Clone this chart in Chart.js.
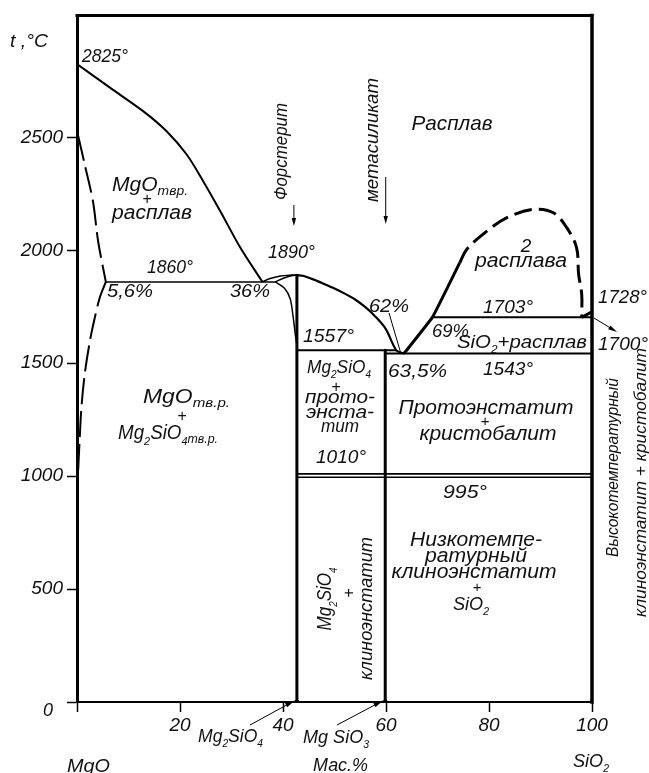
<!DOCTYPE html>
<html lang="ru">
<head>
<meta charset="utf-8">
<title>Диаграмма состояния MgO – SiO2</title>
<script src="https://cdn.jsdelivr.net/npm/chart.js@4.4.0/dist/chart.umd.min.js"></script>
<style>
  html, body { margin: 0; padding: 0; background: #fff; }
  canvas { display: block; }
</style>
</head>
<body>
<canvas id="c" width="649" height="773"></canvas>
<script>
// Axis ticks
const xTickValues = [0, 20, 40, 60, 80, 100];
const yTickValues = [0, 500, 1000, 1500, 2000, 2500];

// Compositions of the compounds, mass % SiO2
const forsteriteX = 42.7;   // Mg2SiO4
const enstatiteX = 59.85;   // MgSiO3

// Liquidus of MgO: from 2825° down to the eutectic 36 % / 1860°
const mgoLiquidus = [[0, 2825], [6.4, 2720], [12.9, 2615], [17.4, 2527], [21.3, 2424],
                     [24.5, 2306], [27.8, 2174], [31.7, 2012], [36, 1860]];
// Limit of the MgO solid solution (dashed)
const mgoSolvusUpper = [[0.2, 2510], [1.5, 2380], [3.1, 2217], [4.1, 2040], [5.6, 1860]];
const mgoSolvusLower = [[5.6, 1860], [4.4, 1789], [3.45, 1701], [2.5, 1598], [1.5, 1452],
                        [0.85, 1302], [0.5, 1155], [0.2, 1009], [0.05, 880]];
// Eutectic 1860°
const eutectic1860 = [[5.6, 1860], [38.5, 1860]];
// Forsterite melting region (max 1890°)
const fLiquidusLeft = [[36, 1860], [37.5, 1875], [39.5, 1886], [41.2, 1890], [42.7, 1890]];
const fSolidusLeft = [[38.5, 1860], [40.2, 1877], [41.6, 1887], [42.7, 1890]];
const fSolvus = [[38.5, 1860], [40.3, 1832], [41.4, 1785], [42.0, 1700], [42.4, 1625], [42.7, 1580]];
const forsteriteLine = [[forsteriteX, 1890], [forsteriteX, 0]];
const fLiquidusRight = [[42.7, 1890], [44, 1886], [46, 1870], [48, 1851], [50, 1831], [52, 1808],
                        [54, 1782], [56, 1748], [58, 1705], [60, 1650], [62, 1557], [63.5, 1543]];
// Peritectic 1557° and metasilicate line
const peritectic1557 = [[forsteriteX, 1557], [62, 1557]];
const enstatiteLine = [[enstatiteX, 1557], [enstatiteX, 0]];
// Eutectic 1543°
const eutectic1543 = [[enstatiteX, 1543], [100, 1543]];
// Cristobalite liquidus and two-liquid region
const silicaLiquidus = [[63.5, 1543], [69, 1703], [72, 1838], [74.3, 1944]];
const twoLiquids = [[74.3, 1944], [75.7, 2005], [79.6, 2085], [83.4, 2144], [88.6, 2181],
                    [92.5, 2166], [95.1, 2100], [97.0, 2012], [97.4, 1894], [98.0, 1806], [98.0, 1703]];
const monotectic1703 = [[69, 1703], [100, 1703]];
const silicaMelting = [[98, 1703], [100, 1728]];
// Polymorphic transformations
const transition1010 = [[forsteriteX, 1010], [100, 1010]];
const transition995 = [[forsteriteX, 995], [100, 995]];
// Junctions on the composition axis
const baseJunctions = [[0, 0], [forsteriteX, 0], [enstatiteX, 0], [100, 0]];

const FAMILY = '"Liberation Sans", Arial, sans-serif';
const font = size => `italic ${size}px ${FAMILY}`;

function pts(arr) { return arr.map(([x, y]) => ({ x, y })); }
function curve(arr, width, dash, tension) {
  return {
    data: pts(arr), showLine: true, borderColor: '#000', backgroundColor: '#000',
    borderWidth: width, borderDash: dash || [], pointRadius: 0, pointHoverRadius: 0,
    tension: tension || 0, fill: false, borderCapStyle: 'butt', borderJoinStyle: 'round'
  };
}

// Text with subscripts: parts are [text, kind]; kind 0 normal, 1 index, 2 small phase index.
// When a width is given the line is stretched horizontally to it.
function drawRich(ctx, parts, x, y, size, align, angle, width) {
  ctx.save();
  ctx.translate(x, y);
  if (angle) ctx.rotate(angle);
  ctx.textBaseline = 'alphabetic';
  ctx.textAlign = 'left';
  ctx.fillStyle = '#111';
  const segs = parts.map(p => {
    const [t, k] = Array.isArray(p) ? p : [p, 0];
    const sz = k === 1 ? size * 0.58 : k === 2 ? size * 0.66 : size;
    const dy = k === 1 ? size * 0.28 : k === 2 ? size * 0.2 : 0;
    ctx.font = font(sz);
    return { t, sz, dy, w: ctx.measureText(t).width };
  });
  const total = segs.reduce((a, s) => a + s.w, 0);
  const sx = width ? Math.min(1.3, Math.max(0.85, width / total)) : 1;
  ctx.scale(sx, 1);
  let cx = align === 'center' ? -total / 2 : align === 'right' ? -total : 0;
  for (const s of segs) {
    ctx.font = font(s.sz);
    ctx.fillText(s.t, cx, s.dy);
    cx += s.w;
  }
  ctx.restore();
}

function arrow(ctx, x1, y1, x2, y2, head) {
  const a = Math.atan2(y2 - y1, x2 - x1);
  const h = head || 8;
  ctx.save();
  ctx.strokeStyle = '#000';
  ctx.fillStyle = '#000';
  ctx.lineWidth = 1;
  ctx.beginPath();
  ctx.moveTo(x1, y1);
  ctx.lineTo(x2 - Math.cos(a) * h * 0.6, y2 - Math.sin(a) * h * 0.6);
  ctx.stroke();
  ctx.beginPath();
  ctx.moveTo(x2, y2);
  ctx.lineTo(x2 - h * Math.cos(a) + 2.2 * Math.sin(a), y2 - h * Math.sin(a) - 2.2 * Math.cos(a));
  ctx.lineTo(x2 - h * Math.cos(a) - 2.2 * Math.sin(a), y2 - h * Math.sin(a) + 2.2 * Math.cos(a));
  ctx.closePath();
  ctx.fill();
  ctx.restore();
}

const UP = -Math.PI / 2;

// [parts, x, y (baseline), size, align, angle, width]
const captions = [
  [['t ,°C'], 10, 47, 19, 'left', 0, 38],
  [['0'], 43, 716, 19, 'left', 0, 10],
  [['MgO'], 67, 772, 19, 'left', 0, 43],
  [['Мас.%'], 313, 771, 19, 'left', 0, 55],
  [['SiO', ['2', 1]], 573, 767, 19, 'left', 0, 36],
  [['Mg', ['2', 1], 'SiO', ['4', 1]], 198, 742, 19, 'left', 0, 65],
  [['Mg SiO', ['3', 1]], 303, 742.5, 19, 'left', 0, 66],

  [['2825°'], 82, 61.5, 18.5, 'left', 0, 46],
  [['1860°'], 147, 273, 18.5, 'left', 0, 46],
  [['5,6%'], 107, 296.5, 18.5, 'left', 0, 46],
  [['36%'], 230, 296.5, 18.5, 'left', 0, 40],
  [['1890°'], 268, 257.5, 18.5, 'left', 0, 47],
  [['1557°'], 303, 341.5, 18.5, 'left', 0, 51],
  [['1010°'], 316, 462.5, 18.5, 'left', 0, 50],
  [['62%'], 369, 311.5, 18.5, 'left', 0, 40],
  [['63,5%'], 388, 376.5, 18.5, 'left', 0, 59],
  [['1543°'], 483, 374.5, 18.5, 'left', 0, 50],
  [['69%'], 432, 336.5, 18.5, 'left', 0, 37],
  [['1703°'], 483, 312.5, 18.5, 'left', 0, 50],
  [['1728°'], 598, 302.5, 18.5, 'left', 0, 49],
  [['1700°'], 598, 350, 18.5, 'left', 0, 50],
  [['995°'], 443, 497.5, 18.5, 'left', 0, 44],

  [['Расплав'], 452, 130, 21, 'center', 0, 81],
  [['MgO', ['твр.', 2]], 150, 190.5, 20, 'center', 0, 76],
  [['+'], 147, 203.5, 16, 'center', 0, 0],
  [['расплав'], 152, 219, 20, 'center', 0, 80],

  [['MgO', ['тв.р.', 2]], 143, 402.7, 20, 'left', 0, 87],
  [['+'], 182, 420.5, 16, 'center', 0, 0],
  [['Mg', ['2', 1], 'SiO', ['4', 1], ['тв.р.', 2]], 118, 439.3, 20, 'left', 0, 100],

  [['Mg', ['2', 1], 'SiO', ['4', 1]], 339, 373, 19, 'center', 0, 64],
  [['+'], 336, 391.5, 16, 'center', 0, 0],
  [['прото-'], 340, 403, 19, 'center', 0, 70],
  [['энста-'], 340, 418, 19, 'center', 0, 68],
  [['тит'], 340, 432, 19, 'center', 0, 38],

  [['2'], 526, 251.5, 19, 'center', 0, 0],
  [['расплава'], 521, 266.5, 20, 'center', 0, 92],
  [['SiO', ['2', 1], '+расплав'], 457, 347.5, 19, 'left', 0, 130],

  [['Протоэнстатит'], 486, 413.5, 20, 'center', 0, 175],
  [['+'], 485, 426, 15, 'center', 0, 0],
  [['кристобалит'], 488, 439.5, 20, 'center', 0, 137],

  [['Низкотемпе-'], 476, 546, 20, 'center', 0, 132],
  [['ратурный'], 476, 561.5, 20, 'center', 0, 102],
  [['клиноэнстатит'], 474, 578, 20, 'center', 0, 165],
  [['+'], 477, 591.5, 15, 'center', 0, 0],
  [['SiO', ['2', 1]], 471, 610, 19, 'center', 0, 36],

  [['Mg', ['2', 1], 'SiO', ['4', 1]], 331, 599, 20, 'center', UP, 60],
  [['+'], 354, 593, 16, 'center', UP, 0],
  [['клиноэнстатит'], 372, 608.5, 19, 'center', UP, 143],

  [['Высокотемпературный'], 618, 467.5, 17, 'center', UP, 179],
  [['клиноэнстатит + кристобалит'], 646, 482.5, 17, 'center', UP, 269]
];

const annotations = {
  id: 'annotations',
  afterDatasetsDraw(chart) {
    const { ctx, chartArea: a, scales: { x, y } } = chart;
    // frame
    ctx.save();
    ctx.strokeStyle = '#000';
    ctx.lineCap = 'square';
    ctx.lineWidth = 3;
    ctx.beginPath();
    ctx.moveTo(a.left, a.top); ctx.lineTo(a.right, a.top);
    ctx.stroke();
    ctx.lineWidth = 3.5;
    ctx.beginPath();
    ctx.moveTo(a.right, a.top); ctx.lineTo(a.right, a.bottom);
    ctx.stroke();
    ctx.restore();

    for (const c of captions) drawRich(ctx, ...c);

    // compound arrows on the composition axis
    arrow(ctx, 250, 725, x.getPixelForValue(forsteriteX) - 2, y.getPixelForValue(0) - 1.5, 10);
    arrow(ctx, 337, 725, x.getPixelForValue(enstatiteX) - 2, y.getPixelForValue(0) - 1.5, 10);

    // leader of 62 % and arrow of 1700°
    ctx.save();
    ctx.strokeStyle = '#000';
    ctx.lineWidth = 1;
    ctx.beginPath();
    ctx.moveTo(389, 313);
    ctx.lineTo(x.getPixelForValue(62.8), y.getPixelForValue(1550));
    ctx.stroke();
    ctx.restore();
    arrow(ctx, x.getPixelForValue(100) + 2, y.getPixelForValue(1700), 617, 332, 9);

    // compound markers
    const fx = x.getPixelForValue(forsteriteX);
    const ex = x.getPixelForValue(enstatiteX);
    drawRich(ctx, ['Форстерит'], fx - 10, 151.5, 19, 'center', UP, 97);
    arrow(ctx, fx - 3, 205, fx - 3, 226, 8);
    drawRich(ctx, ['метасиликат'], ex - 7, 140, 19, 'center', UP, 124);
    arrow(ctx, ex + 0.5, 177, ex + 0.5, 224, 8);
  }
};

const tickFont = { family: FAMILY, size: 19, style: 'italic' };

new Chart(document.getElementById('c'), {
  type: 'scatter',
  data: {
    datasets: [
      curve(mgoLiquidus, 2, null, 0.3),
      curve(mgoSolvusUpper, 2, [26, 7], 0.3),
      curve(mgoSolvusLower, 2, [26, 7], 0.3),
      curve(eutectic1860, 1.5),
      curve(fLiquidusLeft, 1.5, null, 0.3),
      curve(fSolidusLeft, 1.5, null, 0.3),
      curve(fSolvus, 1.5, null, 0.3),
      curve(forsteriteLine, 3),
      curve(fLiquidusRight, 2.2, null, 0.3),
      curve(peritectic1557, 2),
      curve(enstatiteLine, 3),
      curve(eutectic1543, 2),
      curve(silicaLiquidus, 3, null, 0.1),
      curve(twoLiquids, 3, [18, 7], 0.35),
      curve(monotectic1703, 2),
      curve(silicaMelting, 3),
      curve(transition1010, 1.6),
      curve(transition995, 1.6),
      { data: pts(baseJunctions), showLine: false, pointRadius: 2.5, pointHoverRadius: 0,
        backgroundColor: '#000', borderColor: '#000', borderWidth: 0 }
    ]
  },
  options: {
    responsive: false,
    devicePixelRatio: 1,
    animation: false,
    events: [],
    layout: { padding: { top: 14, right: 57, bottom: 0, left: 0 } },
    plugins: { legend: { display: false }, tooltip: { enabled: false } },
    scales: {
      x: {
        type: 'linear', min: 0, max: 100, position: 'bottom',
        afterBuildTicks: s => { s.ticks = xTickValues.map(v => ({ value: v })); },
        afterFit: s => { s.height = 71; },
        grid: { display: true, drawOnChartArea: false, drawTicks: true, tickLength: 10,
                color: '#000', tickWidth: 1.5 },
        border: { display: true, color: '#000', width: 2 },
        ticks: { font: tickFont, color: '#111', padding: 2, maxRotation: 0, autoSkip: false,
                 callback: v => (v === 0 ? '' : String(v)) }
      },
      y: {
        type: 'linear', min: 0, max: 3040, position: 'left',
        afterBuildTicks: s => { s.ticks = yTickValues.map(v => ({ value: v })); },
        afterFit: s => { s.width = 77; },
        grid: { display: true, drawOnChartArea: false, drawTicks: true, tickLength: 10,
                color: '#000', tickWidth: 1.5 },
        border: { display: true, color: '#000', width: 3 },
        ticks: { font: tickFont, color: '#111', padding: 4, autoSkip: false,
                 callback: v => (v === 0 ? '' : String(v)) }
      }
    }
  },
  plugins: [annotations]
});
</script>
</body>
</html>
